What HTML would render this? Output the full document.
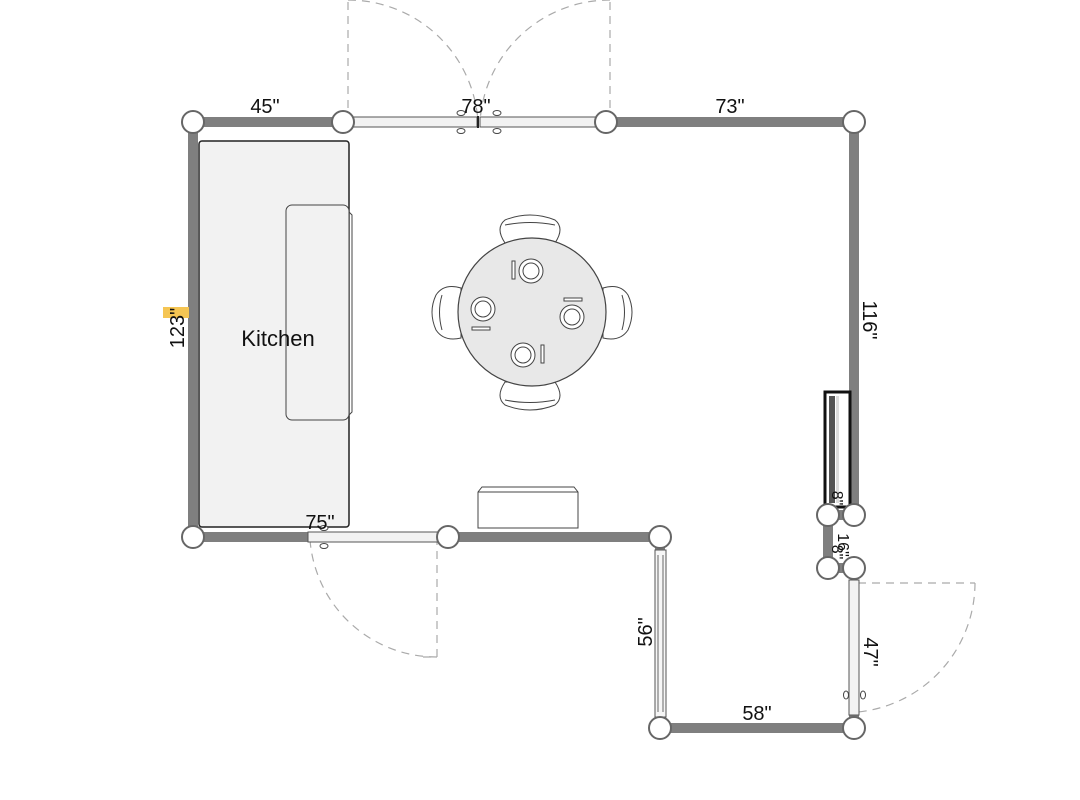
<!DOCTYPE html>
<html><head><meta charset="utf-8"><style>
html,body{margin:0;padding:0;background:#fff;width:1080px;height:800px;overflow:hidden}
svg{display:block}
text{font-family:"Liberation Sans",sans-serif;fill:#111}
</style></head><body>
<svg width="1080" height="800" viewBox="0 0 1080 800">
<g fill="none" stroke="#aaa" stroke-width="1.2" stroke-dasharray="8,6">
<path d="M348 122 L348 0 M348 0 A130 130 0 0 1 478 122"/>
<path d="M610 122 L610 0 M610 0 A130 130 0 0 0 480 122"/>
<path d="M437 537 L437 657 L420 657 M437 657 A127 127 0 0 1 310 540"/>
<path d="M858 583 L975 583 M975 583 A130 130 0 0 1 858 712"/>
</g>
<g stroke="#7f7f7f" stroke-width="10" fill="none">
<path d="M193 122 L343 122 M606 122 L854 122 L854 515 M193 122 L193 537 L308 537 M440 537 L660 537 L660 550 M828 515 L828 568 M828 515 L854 515 M828 568 L854 568 M660 728 L854 728 L854 715"/>
</g>
<rect x="199" y="141" width="150" height="386" rx="3" fill="#f2f2f2" stroke="#222" stroke-width="1.5"/>
<rect x="286" y="205" width="63" height="215" rx="6" fill="#f2f2f2" stroke="#444" stroke-width="1"/>
<path d="M349 212 L352 215 L352 412 L349 415" fill="none" stroke="#444"/>
<text x="278" y="346" font-size="22" text-anchor="middle">Kitchen</text>
<rect x="347" y="117" width="130" height="10" fill="#f2f2f2" stroke="#555"/>
<rect x="480" y="117" width="130" height="10" fill="#f2f2f2" stroke="#555"/>
<line x1="478" y1="116" x2="478" y2="128" stroke="#222" stroke-width="2"/>
<g fill="#fff" stroke="#444"><ellipse cx="461" cy="113" rx="4" ry="2.5"/><ellipse cx="461" cy="131" rx="4" ry="2.5"/><ellipse cx="497" cy="113" rx="4" ry="2.5"/><ellipse cx="497" cy="131" rx="4" ry="2.5"/></g>
<rect x="308" y="532" width="132" height="10" fill="#f2f2f2" stroke="#555"/>
<g fill="#fff" stroke="#444"><ellipse cx="324" cy="546" rx="4" ry="2.5"/><ellipse cx="324" cy="528" rx="4" ry="2.5"/></g>
<rect x="849" y="580" width="10" height="135" fill="#f2f2f2" stroke="#555"/>
<g fill="#fff" stroke="#444"><ellipse cx="846" cy="695" rx="2.5" ry="4"/><ellipse cx="863" cy="695" rx="2.5" ry="4"/></g>
<rect x="655" y="550" width="11" height="167" fill="#f6f6f6" stroke="#555"/>
<line x1="658" y1="555" x2="658" y2="712" stroke="#666"/>
<line x1="663" y1="555" x2="663" y2="712" stroke="#666"/>
<rect x="825" y="392" width="25" height="115" fill="#fff" stroke="#111" stroke-width="3"/>
<rect x="829" y="396" width="6" height="107" fill="#555"/>
<rect x="836" y="396" width="3" height="107" fill="#ddd"/>
<path d="M478 528 L478 492 L482 487 L574 487 L578 492 L578 528 Z" fill="#fff" stroke="#444"/>
<line x1="478" y1="492" x2="578" y2="492" stroke="#444"/>
<g fill="#fff" stroke="#444" stroke-width="1">
<path d="M505 243 Q495 228 505 220 Q530 210 555 220 Q565 228 555 243 Z"/>
<path d="M505 225 Q530 220 555 225" fill="none"/>
<path d="M505 382 Q495 397 505 405 Q530 415 555 405 Q565 397 555 382 Z"/>
<path d="M505 400 Q530 405 555 400" fill="none"/>
<path d="M461 288 Q444 283 436 295 Q428 312 436 330 Q444 342 461 338 Z"/>
<path d="M442 295 Q437 312 442 330" fill="none"/>
<path d="M603 288 Q620 283 628 295 Q636 312 628 330 Q620 342 603 338 Z"/>
<path d="M622 295 Q627 312 622 330" fill="none"/>
</g>
<circle cx="532" cy="312" r="74" fill="#e8e8e8" stroke="#444" stroke-width="1.2"/>
<g fill="#fff" stroke="#444">
<circle cx="531" cy="271" r="12"/><circle cx="531" cy="271" r="8"/>
<circle cx="483" cy="309" r="12"/><circle cx="483" cy="309" r="8"/>
<circle cx="572" cy="317" r="12"/><circle cx="572" cy="317" r="8"/>
<circle cx="523" cy="355" r="12"/><circle cx="523" cy="355" r="8"/>
<rect x="512" y="261" width="3" height="18"/>
<rect x="472" y="327" width="18" height="3"/>
<rect x="564" y="298" width="18" height="3"/>
<rect x="541" y="345" width="3" height="18"/>
</g>
<g fill="#fff" stroke="#666" stroke-width="2">
<circle cx="193" cy="122" r="11"/><circle cx="343" cy="122" r="11"/><circle cx="606" cy="122" r="11"/><circle cx="854" cy="122" r="11"/>
<circle cx="854" cy="515" r="11"/><circle cx="828" cy="515" r="11"/><circle cx="828" cy="568" r="11"/><circle cx="854" cy="568" r="11"/>
<circle cx="854" cy="728" r="11"/><circle cx="660" cy="728" r="11"/><circle cx="660" cy="537" r="11"/><circle cx="448" cy="537" r="11"/><circle cx="193" cy="537" r="11"/>
</g>
<g font-size="20">
<text x="265" y="113" text-anchor="middle">45"</text>
<text x="476" y="113" text-anchor="middle">78"</text>
<text x="730" y="113" text-anchor="middle">73"</text>
<text x="320" y="529" text-anchor="middle">75"</text>
<text x="757" y="720" text-anchor="middle">58"</text>
<rect x="163" y="307" width="26" height="11" fill="#f5c553"/>
<text transform="translate(184,328) rotate(-90)" text-anchor="middle">123"</text>
<text transform="translate(863,320) rotate(90)" text-anchor="middle">116"</text>
<text transform="translate(652,632) rotate(-90)" text-anchor="middle">56"</text>
<text transform="translate(864,652) rotate(90)" text-anchor="middle">47"</text>
<text transform="translate(832,498) rotate(90)" text-anchor="middle" font-size="16">8"</text>
<text transform="translate(838,545) rotate(90)" text-anchor="middle" font-size="16">16"</text>
<text transform="translate(832,552) rotate(90)" text-anchor="middle" font-size="16">8"</text>
</g>
</svg>
</body></html>
